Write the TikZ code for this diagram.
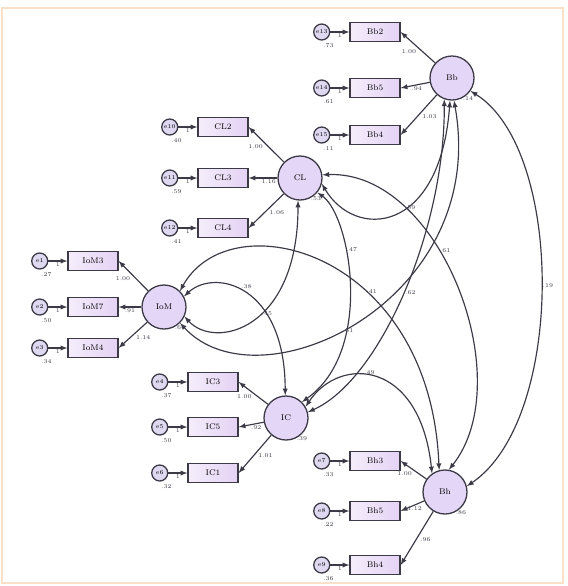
\documentclass[tikz,border=0pt]{standalone}
\usepackage{tikz}
\usetikzlibrary{arrows, positioning, calc}
\definecolor{latfill}{RGB}{228,214,246}
\definecolor{obsfill}{RGB}{228,210,244}
\definecolor{errfill}{RGB}{222,216,240}
\definecolor{edge}{RGB}{60,58,70}
\definecolor{framecol}{RGB}{250,224,198}
\tikzstyle{latent} = [draw=edge, line width=1.1pt, circle, fill=latfill, minimum size=1.32cm, inner sep=0pt, font=\scriptsize]
\tikzstyle{obs} = [draw=edge, line width=1.1pt, rectangle, left color=white!60!obsfill, right color=obsfill, minimum width=1.5cm, minimum height=0.55cm, inner sep=0pt, font=\scriptsize]
\tikzstyle{err} = [draw=edge, line width=1.1pt, circle, fill=errfill, minimum size=0.48cm, inner sep=0pt, font=\tiny]
\tikzstyle{arrow} = [line width=1pt, draw=edge, ->, >=latex]
\tikzstyle{cov} = [line width=1pt, draw=edge, <->, >=latex]
\tikzstyle{val} = [font=\tiny, text=edge, inner sep=1pt]

\begin{document}
\begin{tikzpicture}[x=0.03cm, y=-0.03cm]
    \useasboundingbox (0,0) rectangle (568,586);
    \draw[framecol, line width=2pt] (2,8) rectangle (563,583);

    % latent variables
    \node[latent] (Bb) at (452,78) {Bb};
    \node[latent] (CL) at (300,178) {CL};
    \node[latent] (IoM) at (164,307) {IoM};
    \node[latent] (IC) at (286,418) {IC};
    \node[latent] (Bh) at (445,492) {Bh};

    % Bb indicators
    \node[obs] (Bb2) at (375,32) {Bb2};
    \node[obs] (Bb5) at (375,88) {Bb5};
    \node[obs] (Bb4) at (375,135) {Bb4};
    \node[err, left=0.57cm of Bb2] (e13) {e13};
    \node[err, left=0.57cm of Bb5] (e14) {e14};
    \node[err, left=0.57cm of Bb4] (e15) {e15};

    % CL indicators
    \node[obs] (CL2) at (223,127) {CL2};
    \node[obs] (CL3) at (223,178) {CL3};
    \node[obs] (CL4) at (223,228) {CL4};
    \node[err, left=0.57cm of CL2] (e10) {e10};
    \node[err, left=0.57cm of CL3] (e11) {e11};
    \node[err, left=0.57cm of CL4] (e12) {e12};

    % IoM indicators
    \node[obs] (IoM3) at (93,261) {IoM3};
    \node[obs] (IoM7) at (93,307) {IoM7};
    \node[obs] (IoM4) at (93,348) {IoM4};
    \node[err, left=0.57cm of IoM3] (e1) {e1};
    \node[err, left=0.57cm of IoM7] (e2) {e2};
    \node[err, left=0.57cm of IoM4] (e3) {e3};

    % IC indicators
    \node[obs] (IC3) at (213,382) {IC3};
    \node[obs] (IC5) at (213,427) {IC5};
    \node[obs] (IC1) at (213,473) {IC1};
    \node[err, left=0.57cm of IC3] (e4) {e4};
    \node[err, left=0.57cm of IC5] (e5) {e5};
    \node[err, left=0.57cm of IC1] (e6) {e6};

    % Bh indicators
    \node[obs] (Bh3) at (375,461) {Bh3};
    \node[obs] (Bh5) at (375,511) {Bh5};
    \node[obs] (Bh4) at (375,565) {Bh4};
    \node[err, left=0.57cm of Bh3] (e7) {e7};
    \node[err, left=0.57cm of Bh5] (e8) {e8};
    \node[err, left=0.57cm of Bh4] (e9) {e9};

    % Loadings
    \draw[arrow] (Bb) -- (Bb2.east) node[val, pos=0.5, below left] {1.00};
    \draw[arrow] (Bb) -- (Bb5.east) node[val, pos=0.45, below] {.94};
    \draw[arrow] (Bb) -- (Bb4.east) node[val, pos=0.45, below right] {1.03};
    \draw[arrow] (CL) -- (CL2.east) node[val, pos=0.55, below left] {1.00};
    \draw[arrow] (CL) -- (CL3.east) node[val, pos=0.3, below] {1.16};
    \draw[arrow] (CL) -- (CL4.east) node[val, pos=0.45, below right] {1.06};
    \draw[arrow] (IoM) -- (IoM3.east) node[val, pos=0.55, below left] {1.00};
    \draw[arrow] (IoM) -- (IoM7.east) node[val, pos=0.5, below] {.91};
    \draw[arrow] (IoM) -- (IoM4.east) node[val, pos=0.45, below right] {1.14};
    \draw[arrow] (IC) -- (IC3.east) node[val, pos=0.5, below left] {1.00};
    \draw[arrow] (IC) -- (IC5.east) node[val, pos=0.3, below] {.92};
    \draw[arrow] (IC) -- (IC1.east) node[val, pos=0.45, below right] {1.01};
    \draw[arrow] (Bh) -- (Bh3.east) node[val, pos=0.5, below left] {1.00};
    \draw[arrow] (Bh) -- (Bh5.east) node[val, pos=0.4, below] {1.12};
    \draw[arrow] (Bh) -- (Bh4.east) node[val, pos=0.45, below right] {.96};

    % Errors
    \draw[arrow] (e13) -- (Bb2) node[val, midway, below] {1};
    \draw[arrow] (e14) -- (Bb5) node[val, midway, below] {1};
    \draw[arrow] (e15) -- (Bb4) node[val, midway, below] {1};
    \draw[arrow] (e10) -- (CL2) node[val, midway, below] {1};
    \draw[arrow] (e11) -- (CL3) node[val, midway, below] {1};
    \draw[arrow] (e12) -- (CL4) node[val, midway, below] {1};
    \draw[arrow] (e1) -- (IoM3) node[val, midway, below] {1};
    \draw[arrow] (e2) -- (IoM7) node[val, midway, below] {1};
    \draw[arrow] (e3) -- (IoM4) node[val, midway, below] {1};
    \draw[arrow] (e4) -- (IC3) node[val, midway, below] {1};
    \draw[arrow] (e5) -- (IC5) node[val, midway, below] {1};
    \draw[arrow] (e6) -- (IC1) node[val, midway, below] {1};
    \draw[arrow] (e7) -- (Bh3) node[val, midway, below] {1};
    \draw[arrow] (e8) -- (Bh5) node[val, midway, below] {1};
    \draw[arrow] (e9) -- (Bh4) node[val, midway, below] {1};

    % Error variances
    \node[val, below=1pt of e13, xshift=0.2cm] {.73};
    \node[val, below=1pt of e14, xshift=0.2cm] {.61};
    \node[val, below=1pt of e15, xshift=0.2cm] {.11};
    \node[val, below=1pt of e10, xshift=0.2cm] {.40};
    \node[val, below=1pt of e11, xshift=0.2cm] {.59};
    \node[val, below=1pt of e12, xshift=0.2cm] {.41};
    \node[val, below=1pt of e1, xshift=0.2cm] {.27};
    \node[val, below=1pt of e2, xshift=0.2cm] {.50};
    \node[val, below=1pt of e3, xshift=0.2cm] {.34};
    \node[val, below=1pt of e4, xshift=0.2cm] {.37};
    \node[val, below=1pt of e5, xshift=0.2cm] {.50};
    \node[val, below=1pt of e6, xshift=0.2cm] {.32};
    \node[val, below=1pt of e7, xshift=0.2cm] {.33};
    \node[val, below=1pt of e8, xshift=0.2cm] {.22};
    \node[val, below=1pt of e9, xshift=0.2cm] {.36};

    % Latent variances
    \node[val, below=1pt of Bb.south east] {.14};
    \node[val, below=1pt of CL.south east] {.53};
    \node[val, below=1pt of IoM.south east] {.64};
    \node[val, below=1pt of IC.south east] {.39};
    \node[val, below=1pt of Bh.south east] {.86};

    % Covariances
    \draw[cov] (CL.-15) .. controls (355,240) and (440,235) .. (Bb.-95) node[val, pos=0.6, below] {.59};
    \draw[cov] (CL.8) .. controls (440,170) and (520,380) .. (Bh.80) node[val, pos=0.4, right] {.61};
    \draw[cov] (CL.-40) .. controls (350,215) and (375,350) .. (IC.45) node[val, pos=0.35, right] {.47};
    \draw[cov] (IoM.-25) .. controls (215,350) and (298,330) .. (CL.-95) node[val, pos=0.55, right] {.45};
    \draw[cov] (IoM.28) .. controls (215,268) and (285,285) .. (IC.92) node[val, pos=0.45, above right] {.38};
    \draw[cov] (IoM.45) .. controls (230,200) and (430,250) .. (Bh.105) node[val, pos=0.62, right] {.41};
    \draw[cov] (IoM.-45) .. controls (260,410) and (490,300) .. (Bb.-85) node[val, pos=0.45, right] {.51};
    \draw[cov] (Bb.-110) .. controls (445,230) and (380,380) .. (IC.15) node[val, pos=0.5, right] {.62};
    \draw[cov] (IC.30) .. controls (340,355) and (420,360) .. (Bh.125) node[val, pos=0.45, above] {.49};
    \draw[cov] (Bb.-35) .. controls (565,150) and (565,420) .. (Bh.15) node[val, pos=0.5, right] {.19};
\end{tikzpicture}
\end{document}
